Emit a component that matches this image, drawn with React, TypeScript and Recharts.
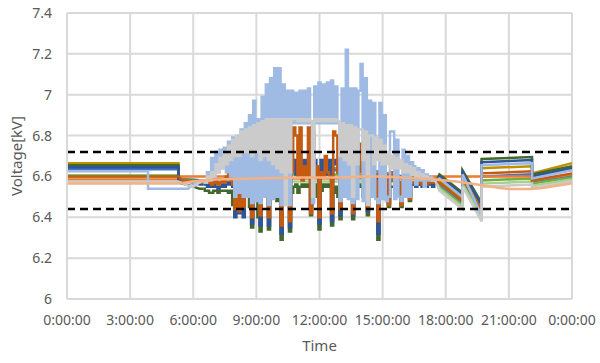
import React from "react";
import {
  LineChart, Line, XAxis, YAxis, CartesianGrid, ReferenceLine,
} from "recharts";

// time grid (hours) used for the busy daytime part of the spiky series
const dayHours = [
  6.5, 6.6, 6.7, 6.8, 6.9, 7.0, 7.1, 7.2, 7.3, 7.4,
  7.5, 7.6, 7.7, 7.8, 7.9, 8.0, 8.1, 8.2, 8.3, 8.4,
  8.5, 8.6, 8.7, 8.8, 8.9, 9.0, 9.1, 9.2, 9.3, 9.4,
  9.5, 9.6, 9.7, 9.8, 9.9, 10.0, 10.1, 10.2, 10.3, 10.4,
  10.5, 10.6, 10.7, 10.8, 10.9, 11.0, 11.1, 11.2, 11.3, 11.4,
  11.5, 11.6, 11.7, 11.8, 11.9, 12.0, 12.1, 12.2, 12.3, 12.4,
  12.5, 12.6, 12.7, 12.8, 12.9, 13.0, 13.1, 13.2, 13.3, 13.4,
  13.5, 13.6, 13.7, 13.8, 13.9, 14.0, 14.1, 14.2, 14.3, 14.4,
  14.5, 14.6, 14.7, 14.8, 14.9, 15.0, 15.1, 15.2, 15.3, 15.4,
  15.5, 15.6, 15.7, 15.8, 15.9, 16.0, 16.1, 16.2, 16.3, 16.4,
  16.5, 16.6, 16.7, 16.8, 16.9, 17.0, 17.1, 17.2, 17.3, 17.4,
  17.5,
];

const xTicks = [0, 3, 6, 9, 12, 15, 18, 21, 24];
const yTicks = [6, 6.2, 6.4, 6.6, 6.8, 7, 7.2, 7.4];
const limits = [6.72, 6.44];

// light blue
const lbNight: [number, number][] = [[0, 6.625], [3.85, 6.625], [3.85, 6.54], [5.75, 6.54], [6.0, 6.56], [6.3, 6.58], [6.5, 6.58]];
const lbDay = [
  6.58, 6.57, 6.62, 6.60, 6.69, 6.60, 6.72, 6.62, 6.73, 6.64,
  6.74, 6.62, 6.77, 6.60, 6.79, 6.50, 6.76, 6.52, 6.83, 6.50,
  6.86, 6.50, 6.90, 6.47, 6.97, 6.48, 6.88, 6.47, 6.99, 6.50,
  7.05, 6.46, 7.08, 6.49, 7.13, 6.50, 7.13, 6.46, 7.05, 6.48,
  7.02, 6.46, 7.02, 6.86, 7.01, 6.86, 7.02, 6.86, 7.02, 6.86,
  7.03, 6.86, 6.47, 7.04, 6.86, 7.06, 6.86, 7.05, 6.86, 7.06,
  6.86, 7.07, 6.86, 7.04, 6.86, 6.48, 7.03, 6.50, 7.22, 6.49,
  7.03, 6.47, 7.03, 6.49, 7.02, 7.15, 6.48, 7.08, 6.48, 6.97,
  6.50, 6.96, 6.49, 6.47, 6.96, 6.49, 6.90, 6.48, 6.50, 6.82,
  6.82, 6.49, 6.78, 6.50, 6.48, 6.73, 6.50, 6.70, 6.50, 6.67,
  6.65, 6.56, 6.64, 6.58, 6.63, 6.55, 6.61, 6.58, 6.60, 6.58,
  6.58,
];
const lbEve: [number, number][] = [[17.5, 6.58], [17.7, 6.59], [18.8, 6.5], [18.8, 6.61], [19.7, 6.41], [19.7, 6.655], [22.1, 6.665], [22.1, 6.59], [24, 6.63]];

// light gray
const grNight: [number, number][] = [[0, 6.575], [5.3, 6.575], [5.75, 6.555], [6.0, 6.55], [6.3, 6.57], [6.5, 6.58]];
const grDay = [
  6.58, 6.57, 6.60, 6.58, 6.62, 6.60, 6.66, 6.62, 6.69, 6.64,
  6.72, 6.66, 6.75, 6.68, 6.78, 6.70, 6.80, 6.70, 6.82, 6.72,
  6.83, 6.72, 6.84, 6.70, 6.85, 6.72, 6.86, 6.68, 6.87, 6.70,
  6.88, 6.68, 6.88, 6.66, 6.88, 6.64, 6.88, 6.62, 6.88, 6.46,
  6.88, 6.62, 6.88, 6.88, 6.88, 6.87, 6.88, 6.87, 6.88, 6.87,
  6.88, 6.87, 6.50, 6.88, 6.87, 6.88, 6.87, 6.88, 6.87, 6.88,
  6.87, 6.88, 6.87, 6.88, 6.87, 6.70, 6.86, 6.68, 6.85, 6.66,
  6.85, 6.50, 6.84, 6.66, 6.83, 6.83, 6.68, 6.82, 6.46, 6.80,
  6.80, 6.66, 6.79, 6.68, 6.78, 6.66, 6.75, 6.66, 6.72, 6.64,
  6.70, 6.64, 6.69, 6.64, 6.68, 6.62, 6.66, 6.62, 6.65, 6.61,
  6.64, 6.60, 6.62, 6.60, 6.61, 6.59, 6.60, 6.59, 6.59, 6.58,
  6.58,
];
const grEve: [number, number][] = [[17.5, 6.58], [17.7, 6.53], [18.8, 6.44], [18.8, 6.55], [19.7, 6.38], [19.7, 6.55], [22.1, 6.56], [22.1, 6.545], [24, 6.575]];

// dark orange
const doNight: [number, number][] = [[0, 6.6], [5.3, 6.6], [5.5, 6.58], [6.3, 6.57], [6.5, 6.57]];
const doDay = [
  6.57, 6.57, 6.58, 6.57, 6.56, 6.57, 6.58, 6.56, 6.57, 6.58,
  6.57, 6.60, 6.68, 6.58, 6.56, 6.44, 6.56, 6.43, 6.56, 6.45,
  6.56, 6.62, 6.55, 6.40, 6.58, 6.66, 6.56, 6.41, 6.60, 6.64,
  6.57, 6.40, 6.58, 6.68, 6.57, 6.60, 6.56, 6.36, 6.60, 6.70,
  6.58, 6.38, 6.62, 6.84, 6.80, 6.60, 6.84, 6.58, 6.65, 6.60,
  6.84, 6.42, 6.82, 6.60, 6.65, 6.40, 6.62, 6.60, 6.70, 6.62,
  6.60, 6.42, 6.82, 6.80, 6.62, 6.44, 6.65, 6.60, 6.63, 6.66,
  6.62, 6.42, 6.64, 6.60, 6.62, 6.76, 6.60, 6.62, 6.44, 6.73,
  6.72, 6.60, 6.58, 6.38, 6.62, 6.60, 6.66, 6.58, 6.46, 6.62,
  6.58, 6.55, 6.60, 6.57, 6.46, 6.58, 6.56, 6.58, 6.49, 6.57,
  6.57, 6.56, 6.58, 6.57, 6.56, 6.57, 6.56, 6.57, 6.58, 6.57,
  6.57,
];
const doEve: [number, number][] = [[17.5, 6.57], [17.7, 6.57], [18.8, 6.48], [18.8, 6.59], [19.7, 6.43], [19.7, 6.615], [22.1, 6.625], [22.1, 6.58], [24, 6.615]];

// dark blue
const dbNight: [number, number][] = [[0, 6.645], [5.3, 6.645], [5.3, 6.58], [6.0, 6.57], [6.3, 6.56], [6.5, 6.56]];
const dbDay = [
  6.56, 6.56, 6.55, 6.56, 6.55, 6.56, 6.55, 6.54, 6.55, 6.56,
  6.55, 6.56, 6.57, 6.56, 6.55, 6.40, 6.55, 6.42, 6.55, 6.40,
  6.56, 6.58, 6.55, 6.37, 6.58, 6.62, 6.55, 6.36, 6.60, 6.62,
  6.58, 6.36, 6.60, 6.64, 6.60, 6.62, 6.58, 6.32, 6.62, 6.66,
  6.60, 6.35, 6.64, 6.68, 6.61, 6.68, 6.62, 6.68, 6.61, 6.68,
  6.66, 6.44, 6.65, 6.68, 6.61, 6.37, 6.68, 6.62, 6.68, 6.61,
  6.68, 6.38, 6.66, 6.68, 6.62, 6.41, 6.66, 6.65, 6.66, 6.64,
  6.66, 6.41, 6.66, 6.64, 6.64, 6.66, 6.62, 6.64, 6.43, 6.64,
  6.64, 6.62, 6.60, 6.32, 6.62, 6.60, 6.62, 6.58, 6.47, 6.60,
  6.58, 6.56, 6.58, 6.57, 6.47, 6.58, 6.56, 6.57, 6.50, 6.56,
  6.56, 6.55, 6.56, 6.56, 6.55, 6.56, 6.55, 6.56, 6.56, 6.55,
  6.56,
];
const dbEve: [number, number][] = [[17.5, 6.56], [17.7, 6.6], [18.8, 6.51], [18.8, 6.62], [19.7, 6.46], [19.7, 6.67], [22.1, 6.68], [22.1, 6.6], [24, 6.64]];

// dark green
const dgNight: [number, number][] = [[0, 6.655], [5.3, 6.655], [5.3, 6.57], [6.0, 6.55], [6.3, 6.54], [6.5, 6.54]];
const dgDay = [
  6.54, 6.53, 6.53, 6.52, 6.52, 6.53, 6.53, 6.52, 6.53, 6.53,
  6.53, 6.53, 6.52, 6.53, 6.46, 6.46, 6.47, 6.46, 6.52, 6.45,
  6.52, 6.50, 6.45, 6.35, 6.50, 6.52, 6.40, 6.33, 6.50, 6.53,
  6.50, 6.34, 6.52, 6.55, 6.53, 6.48, 6.50, 6.29, 6.52, 6.55,
  6.50, 6.33, 6.52, 6.55, 6.56, 6.52, 6.55, 6.56, 6.55, 6.56,
  6.55, 6.41, 6.52, 6.56, 6.50, 6.34, 6.53, 6.56, 6.55, 6.56,
  6.55, 6.36, 6.52, 6.55, 6.50, 6.39, 6.52, 6.56, 6.55, 6.56,
  6.55, 6.39, 6.52, 6.55, 6.56, 6.55, 6.50, 6.55, 6.41, 6.55,
  6.55, 6.52, 6.50, 6.29, 6.50, 6.55, 6.52, 6.55, 6.45, 6.55,
  6.55, 6.52, 6.55, 6.54, 6.45, 6.55, 6.52, 6.55, 6.48, 6.56,
  6.56, 6.56, 6.56, 6.56, 6.57, 6.56, 6.57, 6.57, 6.57, 6.57,
  6.57,
];
const dgEve: [number, number][] = [[17.5, 6.57], [17.7, 6.61], [18.8, 6.52], [18.8, 6.63], [19.7, 6.47], [19.7, 6.685], [22.1, 6.695], [22.1, 6.61], [24, 6.65]];

// quieter series
const gold: [number, number][] = [[0, 6.665], [5.3, 6.665], [5.3, 6.59], [6.5, 6.58], [8, 6.59], [10, 6.62], [11, 6.64], [13, 6.64], [14.5, 6.63], [16, 6.6], [17.5, 6.59], [17.7, 6.58], [18.8, 6.49], [18.8, 6.6], [19.7, 6.44], [19.7, 6.64], [22.1, 6.65], [22.1, 6.615], [24, 6.665]];
const blue: [number, number][] = [[0, 6.635], [5.3, 6.635], [5.3, 6.585], [6.5, 6.58], [9, 6.6], [10.5, 6.63], [13.5, 6.63], [15, 6.61], [17.5, 6.58], [17.7, 6.56], [18.8, 6.47], [18.8, 6.58], [19.7, 6.42], [19.7, 6.6], [22.1, 6.61], [22.1, 6.575], [24, 6.605]];
const green: [number, number][] = [[0, 6.605], [5.3, 6.605], [5.5, 6.58], [6.5, 6.575], [9, 6.59], [10.5, 6.61], [13.5, 6.61], [15, 6.6], [17.5, 6.58], [17.7, 6.55], [18.8, 6.46], [18.8, 6.57], [19.7, 6.41], [19.7, 6.58], [22.1, 6.59], [22.1, 6.565], [24, 6.595]];
const lightGreen: [number, number][] = [[0, 6.595], [5.3, 6.595], [5.5, 6.575], [17.5, 6.575], [17.7, 6.54], [18.8, 6.45], [18.8, 6.56], [19.7, 6.4], [19.7, 6.565], [22.1, 6.575], [22.1, 6.555], [24, 6.585]];
const orange: [number, number][] = [[0, 6.585], [5.3, 6.585], [5.3, 6.6], [7.5, 6.6], [8, 6.59], [16.5, 6.59], [17, 6.6], [21.5, 6.6], [22.1, 6.6], [22.1, 6.58], [24, 6.61]];
const peach: [number, number][] = [[0, 6.565], [5.3, 6.565], [6, 6.575], [7, 6.585], [9, 6.59], [11, 6.595], [13, 6.595], [14, 6.6], [15, 6.6], [16, 6.595], [17.5, 6.585], [18.5, 6.575], [19.5, 6.56], [20.5, 6.545], [21, 6.538], [22, 6.538], [22.5, 6.542], [23.5, 6.558], [24, 6.567]];

type Pt = { h: number; v: number | null };
const pts = (pairs: [number, number][]): Pt[] => pairs.map(([h, v]) => ({ h, v }));
// night + evening pieces of a spiky series, broken over the day
const edges = (night: [number, number][], eve: [number, number][]): Pt[] => [...pts(night), { h: 12, v: null }, ...pts(eve)];
const daytime = (day: number[]): Pt[] => dayHours.map((h, i) => ({ h, v: day[i] }));

type S = { key: string; color: string; data: Pt[]; step?: boolean };
const series: S[] = [
  { key: "gold", color: "#bf9000", data: pts(gold) },
  { key: "blue", color: "#4472c4", data: pts(blue) },
  { key: "green", color: "#70ad47", data: pts(green) },
  { key: "lightGreen", color: "#a9d18e", data: pts(lightGreen) },
  { key: "orange", color: "#ed7d31", data: pts(orange) },
  { key: "dgE", color: "#43682b", data: edges(dgNight, dgEve) },
  { key: "dgD", color: "#43682b", data: daytime(dgDay), step: true },
  { key: "dbE", color: "#2f5597", data: edges(dbNight, dbEve) },
  { key: "dbD", color: "#2f5597", data: daytime(dbDay), step: true },
  { key: "doE", color: "#c55a11", data: edges(doNight, doEve) },
  { key: "doD", color: "#c55a11", data: daytime(doDay), step: true },
  { key: "lbE", color: "#9fbbe3", data: edges(lbNight, lbEve) },
  { key: "lbD", color: "#9fbbe3", data: daytime(lbDay), step: true },
  { key: "grE", color: "#cbcbcb", data: edges(grNight, grEve) },
  { key: "grD", color: "#cbcbcb", data: daytime(grDay), step: true },
  { key: "peach", color: "#f4b183", data: pts(peach) },
];

const TICK = { fontSize: 14, fill: "#595959", fontFamily: "Noto Sans" };

export default function App() {
  return (
    <div style={{ position: "absolute", left: 0, top: 0, width: 600, height: 363, background: "#fff" }}>
      <LineChart width={600} height={363} margin={{ top: 13, right: 28, bottom: 4, left: 0 }}>
        <CartesianGrid stroke="#d9d9d9" strokeWidth={2} />
        <XAxis
          dataKey="h" type="number" domain={[0, 24]} ticks={xTicks}
          tickFormatter={(h: number) => `${h % 24}:00:00`}
          axisLine={{ stroke: "#d9d9d9", strokeWidth: 2 }} tickLine={false} tickMargin={10}
          tick={TICK} height={60}
          label={{ value: "Time", position: "insideBottom", offset: 8, fontSize: 15, fill: "#595959", fontFamily: "Noto Sans" }}
        />
        <YAxis
          type="number" domain={[6, 7.4]} ticks={yTicks} width={67}
          tickFormatter={(v: number) => (Number.isInteger(v) ? String(v) : v.toFixed(1))}
          axisLine={{ stroke: "#d9d9d9", strokeWidth: 2 }} tickLine={false} tickMargin={9}
          tick={TICK}
          label={{ value: "Voltage[kV]", angle: -90, position: "insideLeft", offset: 17, fontSize: 15, fill: "#595959", fontFamily: "Noto Sans", style: { textAnchor: "middle" } }}
        />
        {series.map((s) => (
          <Line
            key={s.key} data={s.data} dataKey="v" type={s.step ? "step" : "linear"} stroke={s.color}
            strokeWidth={2.5} dot={false} activeDot={false} isAnimationActive={false}
          />
        ))}
        {limits.map((y) => (
          <ReferenceLine key={y} y={y} stroke="#000" strokeWidth={2.5} strokeDasharray="8 5" />
        ))}
      </LineChart>
    </div>
  );
}
